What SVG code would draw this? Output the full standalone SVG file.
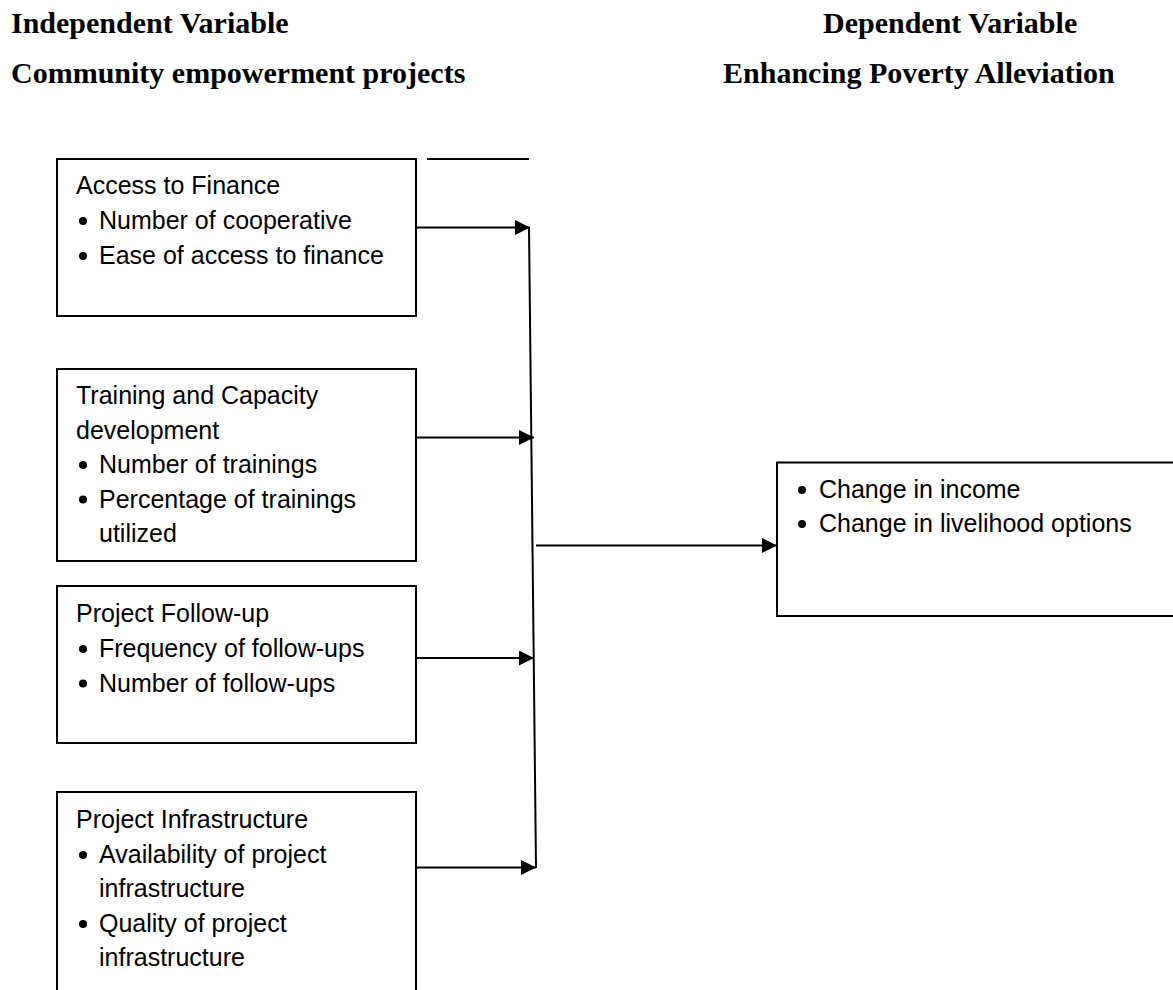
<svg xmlns="http://www.w3.org/2000/svg" width="1173" height="990" viewBox="0 0 1173 990">
  <style>
    .hdr { font-family: "Liberation Serif", "Times New Roman", serif; font-weight: bold; font-size: 30px; fill: #000; }
    .txt { font-family: "Liberation Sans", Arial, sans-serif; font-size: 25px; fill: #000; }
    .box { fill: #fff; stroke: #000; stroke-width: 2; }
    .ln { stroke: #000; stroke-width: 2; fill: none; }
    .bul { fill: #000; }
  </style>
  <defs>
    <marker id="ah" markerUnits="userSpaceOnUse" markerWidth="16" markerHeight="16" refX="15" refY="7.5" orient="auto">
      <path d="M0,0 L15,7.5 L0,15 z" fill="#000"/>
    </marker>
  </defs>
  <rect width="1173" height="990" fill="#fff"/>

  <g id="headers">
    <text class="hdr" x="11" y="33">Independent Variable</text>
    <text class="hdr" x="11" y="83">Community empowerment projects</text>
    <text class="hdr" x="823" y="33">Dependent Variable</text>
    <text class="hdr" x="723" y="83">Enhancing Poverty Alleviation</text>
  </g>

  <g id="connectors">
    <line class="ln" x1="427" y1="159" x2="529" y2="159"/>
    <line class="ln" x1="529" y1="227" x2="536" y2="868"/>
    <line class="ln" x1="416" y1="227.5" x2="530" y2="227.5" marker-end="url(#ah)"/>
    <line class="ln" x1="416" y1="437.5" x2="534" y2="437.5" marker-end="url(#ah)"/>
    <line class="ln" x1="416" y1="658" x2="534" y2="658" marker-end="url(#ah)"/>
    <line class="ln" x1="416" y1="867.5" x2="536" y2="867.5" marker-end="url(#ah)"/>
    <line class="ln" x1="536" y1="545.5" x2="777" y2="545.5" marker-end="url(#ah)"/>
  </g>

  <g id="node-finance">
    <rect class="box" x="57" y="159" width="359" height="157"/>
    <text class="txt" x="76" y="194">Access to Finance</text>
    <circle class="bul" cx="83" cy="221" r="4"/>
    <text class="txt" x="99" y="229">Number of cooperative</text>
    <circle class="bul" cx="83" cy="256" r="4"/>
    <text class="txt" x="99" y="264">Ease of access to finance</text>
  </g>

  <g id="node-training">
    <rect class="box" x="57" y="369" width="359" height="192"/>
    <text class="txt" x="76" y="404">Training and Capacity</text>
    <text class="txt" x="76" y="438.5">development</text>
    <circle class="bul" cx="83" cy="465" r="4"/>
    <text class="txt" x="99" y="473">Number of trainings</text>
    <circle class="bul" cx="83" cy="499.5" r="4"/>
    <text class="txt" x="99" y="507.5">Percentage of trainings</text>
    <text class="txt" x="99" y="542">utilized</text>
  </g>

  <g id="node-followup">
    <rect class="box" x="57" y="586" width="359" height="157"/>
    <text class="txt" x="76" y="622">Project Follow-up</text>
    <circle class="bul" cx="83" cy="649" r="4"/>
    <text class="txt" x="99" y="657">Frequency of follow-ups</text>
    <circle class="bul" cx="83" cy="683.5" r="4"/>
    <text class="txt" x="99" y="691.5">Number of follow-ups</text>
  </g>

  <g id="node-infrastructure">
    <rect class="box" x="57" y="792" width="359" height="230"/>
    <text class="txt" x="76" y="828">Project Infrastructure</text>
    <circle class="bul" cx="83" cy="855" r="4"/>
    <text class="txt" x="99" y="863">Availability of project</text>
    <text class="txt" x="99" y="897">infrastructure</text>
    <circle class="bul" cx="83" cy="924" r="4"/>
    <text class="txt" x="99" y="932">Quality of project</text>
    <text class="txt" x="99" y="966">infrastructure</text>
  </g>

  <g id="node-outcome">
    <rect class="box" x="777" y="462.5" width="460" height="153.5"/>
    <circle class="bul" cx="802" cy="490" r="4"/>
    <text class="txt" x="819" y="498">Change in income</text>
    <circle class="bul" cx="802" cy="524" r="4"/>
    <text class="txt" x="819" y="532">Change in livelihood options</text>
  </g>
</svg>
